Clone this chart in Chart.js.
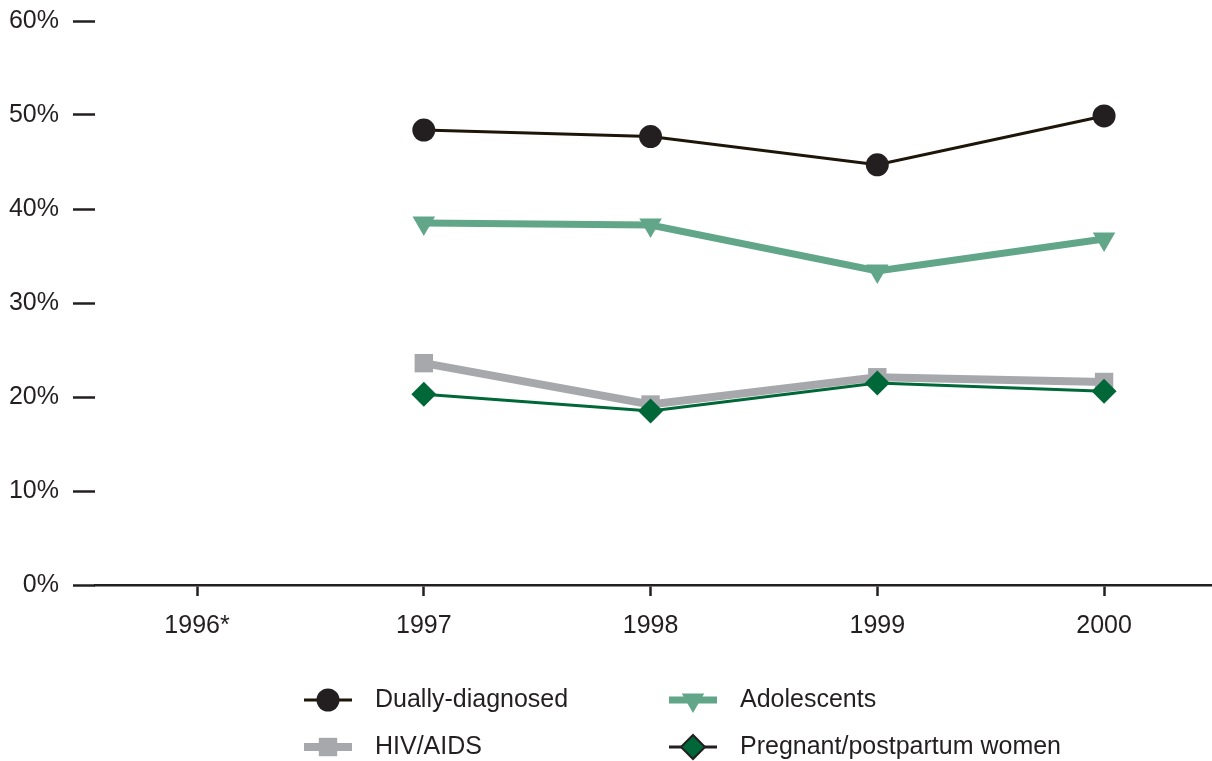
<!DOCTYPE html>
<html>
<head>
<meta charset="utf-8">
<script src="https://cdn.jsdelivr.net/npm/chart.js@4/dist/chart.umd.min.js"></script>
<style>
  html, body { margin: 0; padding: 0; background: #fff; }
  canvas { display: block; }
</style>
</head>
<body>
<canvas id="myChart" width="1212" height="761"></canvas>
<script>
// chart values
const years = ["1996*", "1997", "1998", "1999", "2000"];
const yTicks = [0, 10, 20, 30, 40, 50, 60];
const duallyDiagnosed = [null, 48.4, 47.7, 44.7, 49.9];
const adolescents = [null, 38.5, 38.3, 33.4, 36.8];
const hivAids = [null, 23.6, 19.2, 22.1, 21.6];
const pregnantWomen = [null, 20.3, 18.5, 21.5, 20.6];

const textColor = "#231f20";
const fontFamily = "'Liberation Sans', Arial, sans-serif";

function toPoints(values) {
	return values.map((v, i) => ({ x: i, y: v }));
}

// legend drawn by hand, line + marker like the original
function drawMarker(ctx, style, x, y, r, fill, stroke) {
	ctx.beginPath();
	if (style === "circle") {
		ctx.arc(x, y, r, 0, Math.PI * 2);
	} else if (style === "triangleDown") {
		ctx.moveTo(x - r * 0.866, y - r * 0.5);
		ctx.lineTo(x + r * 0.866, y - r * 0.5);
		ctx.lineTo(x, y + r);
	} else if (style === "rect") {
		const s = r * Math.SQRT1_2;
		ctx.rect(x - s, y - s, 2 * s, 2 * s);
	} else if (style === "rectRot") {
		ctx.moveTo(x - r, y);
		ctx.lineTo(x, y - r);
		ctx.lineTo(x + r, y);
		ctx.lineTo(x, y + r);
	}
	ctx.closePath();
	ctx.fillStyle = fill;
	ctx.fill();
	if (stroke) {
		ctx.lineWidth = 2;
		ctx.strokeStyle = stroke;
		ctx.stroke();
	}
}

const legendItems = [
	{ label: "Dually-diagnosed", cx: 328, cy: 700, line: "#1e1509", lw: 3, style: "circle", r: 11.5, fill: "#231f20" },
	{ label: "Adolescents", cx: 693, cy: 700, line: "#62a68a", lw: 7, style: "triangleDown", r: 13, fill: "#62a68a" },
	{ label: "HIV/AIDS", cx: 328, cy: 747, line: "#a7a8ac", lw: 8, style: "rect", r: 13, fill: "#a7a8ac" },
	{ label: "Pregnant/postpartum women", cx: 693, cy: 747, line: "#231f20", lw: 3, style: "rectRot", r: 12, fill: "#006838", stroke: "#231f20" },
];

const legendPlugin = {
	id: "customLegend",
	afterDraw(chart) {
		const ctx = chart.ctx;
		ctx.save();
		legendItems.forEach((item) => {
			ctx.beginPath();
			ctx.moveTo(item.cx - 24, item.cy);
			ctx.lineTo(item.cx + 24, item.cy);
			ctx.lineWidth = item.lw;
			ctx.strokeStyle = item.line;
			ctx.stroke();
			drawMarker(ctx, item.style, item.cx, item.cy, item.r, item.fill, item.stroke);
			ctx.fillStyle = textColor;
			ctx.font = "25px " + fontFamily;
			ctx.textBaseline = "middle";
			ctx.textAlign = "left";
			ctx.fillText(item.label, item.cx + 47, item.cy);
		});
		ctx.restore();
	},
};

const data = {
	datasets: [
		{
			label: "Dually-diagnosed",
			data: toPoints(duallyDiagnosed),
			borderColor: "#1e1509",
			borderWidth: 3,
			pointStyle: "circle",
			pointRadius: 11.5,
			pointBackgroundColor: "#231f20",
			pointBorderWidth: 0,
			order: 1,
		},
		{
			label: "Adolescents",
			data: toPoints(adolescents),
			borderColor: "#62a68a",
			borderWidth: 7,
			pointStyle: "triangle",
			pointRotation: 180,
			pointRadius: 13,
			pointBackgroundColor: "#62a68a",
			pointBorderWidth: 0,
			order: 2,
		},
		{
			label: "HIV/AIDS",
			data: toPoints(hivAids),
			borderColor: "#a7a8ac",
			borderWidth: 8,
			pointStyle: "rect",
			pointRadius: 13,
			pointBackgroundColor: "#a7a8ac",
			pointBorderWidth: 0,
			order: 3,
		},
		{
			label: "Pregnant/postpartum women",
			data: toPoints(pregnantWomen),
			borderColor: "#006838",
			borderWidth: 3,
			pointStyle: "rectRot",
			pointRadius: 12.5,
			pointBackgroundColor: "#006838",
			pointBorderWidth: 0,
			order: 0,
		},
	],
};

const options = {
	responsive: false,
	animation: false,
	devicePixelRatio: 1,
	layout: { autoPadding: false, padding: { top: 21, left: 0, right: 0, bottom: 0 } },
	plugins: {
		legend: { display: false },
		tooltip: { enabled: false },
	},
	elements: { line: { tension: 0 } },
	scales: {
		x: {
			type: "linear",
			min: -0.45,
			max: 4.476,
			afterBuildTicks: (scale) => {
				scale.ticks = years.map((y, i) => ({ value: i }));
			},
			afterFit: (scale) => {
				scale.height = 176;
				scale.paddingLeft = 0;
				scale.paddingRight = 0;
			},
			ticks: {
				callback: (value) => years[value],
				color: textColor,
				font: { family: fontFamily, size: 25 },
				padding: 15,
				maxRotation: 0,
				autoSkip: false,
			},
			grid: {
				drawOnChartArea: false,
				drawTicks: true,
				tickLength: 11,
				tickWidth: 2.5,
				tickColor: textColor,
			},
			border: { display: true, color: textColor, width: 2.5 },
		},
		y: {
			min: 0,
			max: 60,
			afterBuildTicks: (scale) => {
				scale.ticks = yTicks.map((v) => ({ value: v }));
			},
			afterFit: (scale) => {
				scale.width = 95;
				scale.paddingTop = 0;
				scale.paddingBottom = 0;
			},
			ticks: {
				callback: (value) => value + "%",
				color: textColor,
				font: { family: fontFamily, size: 25 },
				padding: 14,
			},
			grid: {
				drawOnChartArea: false,
				drawTicks: true,
				tickLength: 22,
				tickWidth: 2.5,
				tickColor: textColor,
			},
			border: { display: false },
		},
	},
};

var ctx = document.getElementById("myChart").getContext("2d");
var chartCanvas = new Chart(ctx, {
	type: "line",
	data: data,
	options: options,
	plugins: [legendPlugin],
});
</script>
</body>
</html>
